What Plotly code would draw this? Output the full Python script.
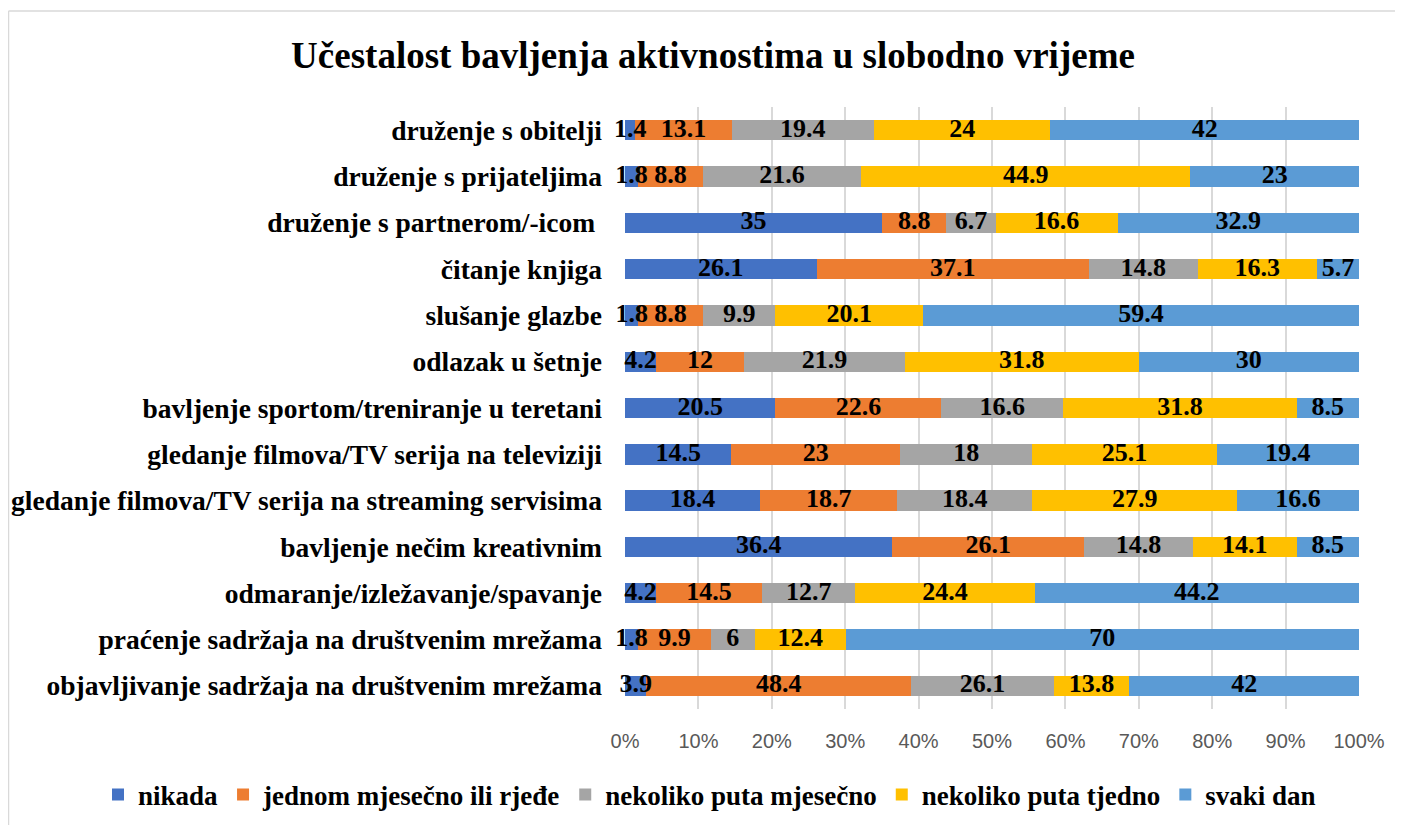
import plotly.graph_objects as go

categories = [
    "druženje s obitelji",
    "druženje s prijateljima",
    "druženje s partnerom/-icom ",
    "čitanje knjiga",
    "slušanje glazbe",
    "odlazak u šetnje",
    "bavljenje sportom/treniranje u teretani",
    "gledanje filmova/TV serija na televiziji",
    "gledanje filmova/TV serija na streaming servisima",
    "bavljenje nečim kreativnim",
    "odmaranje/izležavanje/spavanje",
    "praćenje sadržaja na društvenim mrežama",
    "objavljivanje sadržaja na društvenim mrežama",
]

nikada = [1.4, 1.8, 35, 26.1, 1.8, 4.2, 20.5, 14.5, 18.4, 36.4, 4.2, 1.8, 3.9]
jednom = [13.1, 8.8, 8.8, 37.1, 8.8, 12, 22.6, 23, 18.7, 26.1, 14.5, 9.9, 48.4]
mjesecno = [19.4, 21.6, 6.7, 14.8, 9.9, 21.9, 16.6, 18, 18.4, 14.8, 12.7, 6, 26.1]
tjedno = [24, 44.9, 16.6, 16.3, 20.1, 31.8, 31.8, 25.1, 27.9, 14.1, 24.4, 12.4, 13.8]
svaki_dan = [42, 23, 32.9, 5.7, 59.4, 30, 8.5, 19.4, 16.6, 8.5, 44.2, 70, 42]

series = [
    ("nikada", nikada, "#4472C4"),
    ("jednom mjesečno ili rjeđe", jednom, "#ED7D31"),
    ("nekoliko puta mjesečno", mjesecno, "#A5A5A5"),
    ("nekoliko puta tjedno", tjedno, "#FFC000"),
    ("svaki dan", svaki_dan, "#5B9BD5"),
]

tick_vals = [0, 10, 20, 30, 40, 50, 60, 70, 80, 90, 100]
tick_text = [f"{v}%" for v in tick_vals]

SERIF = "Liberation Serif, Times New Roman, serif"

fig = go.Figure()
for name, vals, color in series:
    fig.add_trace(go.Bar(
        y=categories, x=vals, name=name, orientation="h",
        marker=dict(color=color, line=dict(width=0)),
        width=0.44,
        hoverinfo="skip",
    ))

# data labels (drawn above all bars) at the middle of each normalised segment
totals = [sum(s[1][i] for s in series) for i in range(len(categories))]
cum = [0.0] * len(categories)
for name, vals, color in series:
    mids = []
    for i, v in enumerate(vals):
        mids.append((cum[i] + v / 2) / totals[i] * 100)
        cum[i] += v
    fig.add_trace(go.Scatter(
        y=categories, x=mids, mode="text",
        text=[f"{v:g}" for v in vals],
        textposition="middle center",
        textfont=dict(family=SERIF, size=26, color="black", weight="bold"),
        showlegend=False, hoverinfo="skip", cliponaxis=False,
    ))

# page has an 8px body margin: figure coordinates = screen - OFF
OFF = 8
W, H = 1403, 825
ml, mt = 625 - OFF, 107 - OFF
mr = W - (1359 - OFF)
mb = H - (709 - OFF)
pw, ph = W - ml - mr, H - mt - mb

def px_x(x):
    return (x - OFF - ml) / pw

def px_y(y):
    return 1 - (y - OFF - mt) / ph

n = len(categories)

fig.update_layout(
    width=W, height=H,
    barmode="stack", barnorm="percent",
    paper_bgcolor="white", plot_bgcolor="white",
    margin=dict(l=ml, r=mr, t=mt, b=mb, autoexpand=False),
    title=dict(text="<b>Učestalost bavljenja aktivnostima u slobodno vrijeme</b>",
               font=dict(family=SERIF, size=37, color="black"),
               x=(713 - OFF) / W, xanchor="center", xref="container",
               y=1 - (55 - OFF) / H, yanchor="middle", yref="container"),
    xaxis=dict(range=[0, 100], tickvals=tick_vals, ticktext=tick_text,
               showgrid=True, gridcolor="#D9D9D9", gridwidth=1.5,
               zeroline=False, showline=False, ticks="",
               tickfont=dict(family="Liberation Sans, Arial, sans-serif", size=20, color="#595959"),
               ticklabelstandoff=18, fixedrange=True),
    yaxis=dict(range=[n - 0.5, -0.5], showgrid=False, showline=False, ticks="",
               tickfont=dict(family=SERIF, size=27.5, color="black", weight="bold"),
               ticklabelstandoff=22, fixedrange=True),
    legend=dict(orientation="h", xref="paper", x=px_x(98), xanchor="left",
                yref="paper", y=px_y(795), yanchor="middle",
                font=dict(family=SERIF, size=27, color="black", weight="bold"),
                itemwidth=30, traceorder="normal", tracegroupgap=0),
    showlegend=True,
    shapes=[
        dict(type="line", xref="paper", yref="paper",
             x0=px_x(8.5), x1=px_x(1420), y0=px_y(11), y1=px_y(11),
             line=dict(color="#D9D9D9", width=1.5)),
        dict(type="line", xref="paper", yref="paper",
             x0=px_x(8.5), x1=px_x(8.5), y0=px_y(11), y1=px_y(840),
             line=dict(color="#D9D9D9", width=1.5)),
    ],
)

fig.write_html("out.html")
